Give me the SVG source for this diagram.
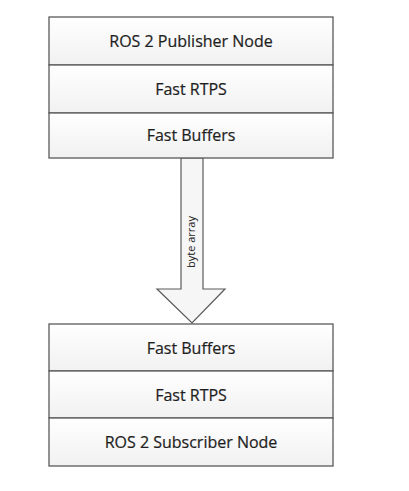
<svg xmlns="http://www.w3.org/2000/svg" width="409" height="491" viewBox="0 0 409 491">
<defs>
<linearGradient id="g" x1="0" y1="0" x2="0" y2="1">
<stop offset="0" stop-color="#ffffff"/>
<stop offset="1" stop-color="#f1f1f1"/>
</linearGradient>
</defs>
<style>
.box{fill:url(#g);stroke:#5a5a5a;stroke-width:1.3}
.t{font-family:"Open Sans","Liberation Sans",sans-serif;font-size:16px;fill:#1e1e1e;text-anchor:middle;stroke:#1e1e1e;stroke-width:0.2}
.s{font-family:"Open Sans","Liberation Sans",sans-serif;font-size:11px;fill:#222;text-anchor:middle}
</style>
<rect width="409" height="491" fill="#ffffff"/>
<g id="connectors">
<path d="M181,158 L203,158 L203,289 L225,289 L192,323 L157,289 L181,289 Z" fill="#f6f6f6" stroke="#5a5a5a" stroke-width="1.2"/>
<text class="s" transform="translate(195,242) rotate(-90)">byte array</text>
</g>
<g id="pub-node">
<rect class="box" x="49" y="17" width="284" height="48"/>
<text class="t" x="191" y="47">ROS 2 Publisher Node</text>
</g>
<g id="pub-rtps">
<rect class="box" x="49" y="65" width="284" height="48"/>
<text class="t" x="191" y="94.5">Fast RTPS</text>
</g>
<g id="pub-buffers">
<rect class="box" x="49" y="113" width="284" height="45"/>
<text class="t" x="191" y="141">Fast Buffers</text>
</g>
<g id="sub-buffers">
<rect class="box" x="49" y="324" width="284" height="47"/>
<text class="t" x="191" y="353.5">Fast Buffers</text>
</g>
<g id="sub-rtps">
<rect class="box" x="49" y="371" width="284" height="47"/>
<text class="t" x="191" y="400.5">Fast RTPS</text>
</g>
<g id="sub-node">
<rect class="box" x="49" y="418" width="284" height="48"/>
<text class="t" x="191" y="447.5">ROS 2 Subscriber Node</text>
</g>
</svg>
